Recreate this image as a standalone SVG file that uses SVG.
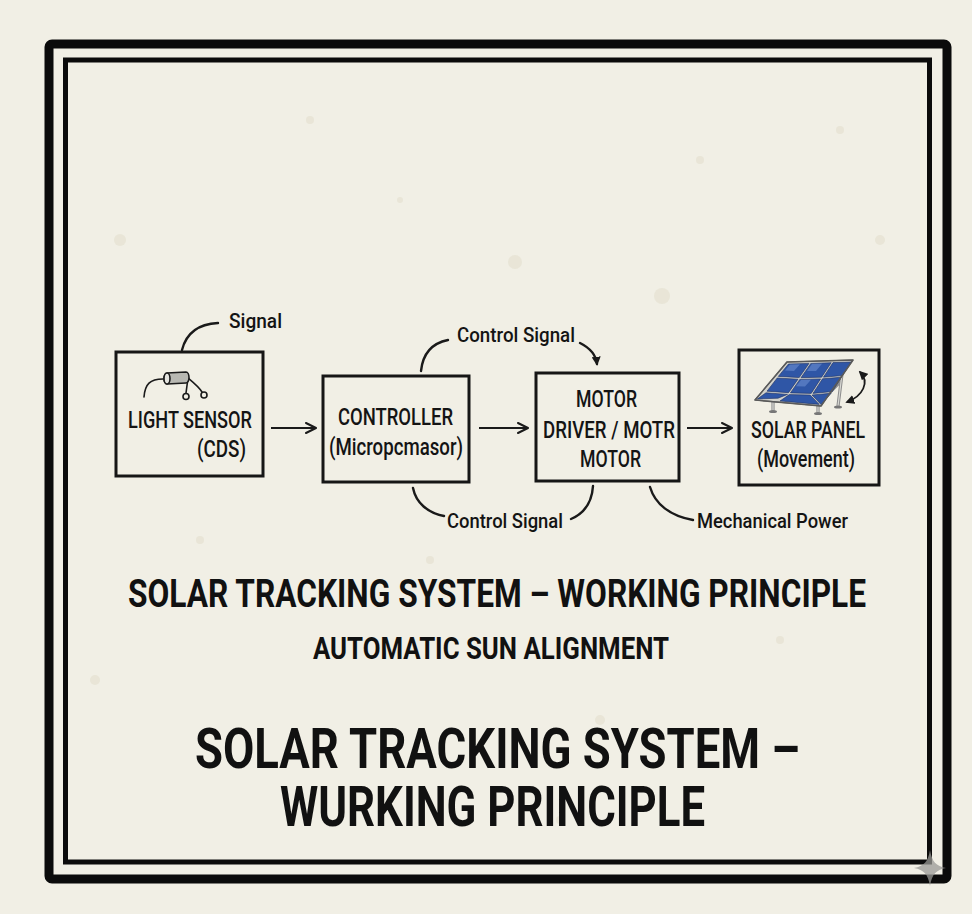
<svg xmlns="http://www.w3.org/2000/svg" width="972" height="914" viewBox="0 0 972 914">
  <defs>
    <style>
      .lbl { font-family: Roboto, "DejaVu Sans", sans-serif; font-weight: 500; fill: #141414; }
      .node { font-size: 23px; }
      .note { font-size: 21px; }
      .head { font-family: Roboto, "DejaVu Sans", sans-serif; font-weight: 700; fill: #111; }
      .box { fill: none; stroke: #161616; stroke-width: 3; }
      .wire { fill: none; stroke: #1a1a1a; stroke-width: 2.4; stroke-linecap: round; }
      .flow { fill: none; stroke: #1a1a1a; stroke-width: 2.2; marker-end: url(#chev); }
      .speck { fill: #d9d3bd; opacity: 0.35; }
    </style>
    <marker id="chev" viewBox="0 0 12 12" refX="11" refY="6" markerWidth="12" markerHeight="12" markerUnits="userSpaceOnUse" orient="auto">
      <path d="M1,1 L11,6 L1,11" fill="none" stroke="#1a1a1a" stroke-width="2" stroke-linecap="round" stroke-linejoin="round"/>
    </marker>
    <marker id="tip" viewBox="0 0 10 10" refX="8" refY="5" markerWidth="9" markerHeight="9" markerUnits="userSpaceOnUse" orient="auto-start-reverse">
      <path d="M0,0 L10,5 L0,10 Z" fill="#1a1a1a"/>
    </marker>
  </defs>

  <!-- paper -->
  <rect x="0" y="0" width="972" height="914" fill="#f1efe5"/>
  <g id="paper-specks">
    <circle class="speck" cx="120" cy="240" r="6"/>
    <circle class="speck" cx="515" cy="262" r="7"/>
    <circle class="speck" cx="662" cy="296" r="8"/>
    <circle class="speck" cx="700" cy="160" r="4"/>
    <circle class="speck" cx="310" cy="120" r="4"/>
    <circle class="speck" cx="880" cy="240" r="5"/>
    <circle class="speck" cx="600" cy="720" r="5"/>
    <circle class="speck" cx="430" cy="560" r="4"/>
    <circle class="speck" cx="95" cy="680" r="5"/>
    <circle class="speck" cx="840" cy="130" r="4"/>
    <circle class="speck" cx="200" cy="540" r="4"/>
    <circle class="speck" cx="780" cy="640" r="4"/>
    <circle class="speck" cx="400" cy="200" r="3"/>
    <circle class="speck" cx="560" cy="820" r="4"/>
  </g>

  <!-- double frame -->
  <g id="frame">
    <rect x="49" y="44" width="898" height="835" rx="3" fill="none" stroke="#0b0b0b" stroke-width="9"/>
    <rect x="65.5" y="60" width="864" height="802" fill="none" stroke="#0b0b0b" stroke-width="5"/>
  </g>

  <!-- connectors -->
  <g id="connectors">
    <path class="flow" d="M271,428 L316,428"/>
    <path class="flow" d="M479,428 L528,428"/>
    <path class="flow" d="M687,428 L732,428"/>
    <path class="wire" d="M182,350 C186,334 198,324 218,323"/>
    <path class="wire" d="M421,371 C423,352 433,343 448,340"/>
    <path class="wire" d="M580,343 C590,348 596,355 597,364" marker-end="url(#tip)"/>
    <path class="wire" d="M413,488 C416,503 428,513 444,516"/>
    <path class="wire" d="M571,519 C585,513 592,502 593,486"/>
    <path class="wire" d="M650,487 C655,504 670,516 693,520"/>
    <text class="lbl note" x="229" y="328" textLength="53" lengthAdjust="spacingAndGlyphs">Signal</text>
    <text class="lbl note" x="457" y="342" textLength="118" lengthAdjust="spacingAndGlyphs">Control Signal</text>
    <text class="lbl note" x="447" y="528" textLength="116" lengthAdjust="spacingAndGlyphs">Control Signal</text>
    <text class="lbl note" x="697" y="528" textLength="151" lengthAdjust="spacingAndGlyphs">Mechanical Power</text>
  </g>

  <!-- light sensor -->
  <g id="light-sensor">
    <rect class="box" x="116" y="352" width="147" height="124"/>
    <g id="cds-cell" fill="none" stroke="#1a1a1a" stroke-width="1.6" stroke-linecap="round">
      <path d="M163,379 C150,379 145,384 144,397"/>
      <path d="M188,378 L186,393"/>
      <path d="M188,378 C194,383 199,387 202,392"/>
      <circle cx="186" cy="396.5" r="3" fill="#f1efe5"/>
      <circle cx="204" cy="395" r="3" fill="#f1efe5"/>
      <path d="M167,373 L186,372 A3,5.5 0 0 1 186,383 L167,384 A3,5.5 0 0 1 167,373 Z" fill="#b8b8b2"/>
      <ellipse cx="167" cy="378.5" rx="3" ry="5.5" fill="#e4e4df"/>
    </g>
    <text class="lbl node" x="128" y="428" textLength="124" lengthAdjust="spacingAndGlyphs">LIGHT SENSOR</text>
    <text class="lbl node" x="197" y="457" textLength="49" lengthAdjust="spacingAndGlyphs">(CDS)</text>
  </g>

  <!-- controller -->
  <g id="controller">
    <rect class="box" x="323" y="376" width="146" height="106"/>
    <text class="lbl node" x="338" y="425" textLength="115" lengthAdjust="spacingAndGlyphs">CONTROLLER</text>
    <text class="lbl node" x="329" y="455" textLength="134" lengthAdjust="spacingAndGlyphs">(Micropcmasor)</text>
  </g>

  <!-- motor driver -->
  <g id="motor-driver">
    <rect class="box" x="536" y="373" width="143" height="108"/>
    <text class="lbl node" x="576" y="407" textLength="61" lengthAdjust="spacingAndGlyphs">MOTOR</text>
    <text class="lbl node" x="543" y="438" textLength="132" lengthAdjust="spacingAndGlyphs">DRIVER / MOTR</text>
    <text class="lbl node" x="580" y="467" textLength="61" lengthAdjust="spacingAndGlyphs">MOTOR</text>
  </g>

  <!-- solar panel -->
  <g id="solar-panel">
    <rect class="box" x="739" y="350" width="140" height="135"/>
    <g id="panel-icon" stroke-linejoin="round">
      <!-- stand -->
      <path d="M773,400 L773,411 M818,404 L818,413 M843,366 L838,406 M824,398 L840,382" stroke="#8d8d8d" stroke-width="3.2" fill="none" stroke-linecap="round"/>
      <path d="M773,400 L773,411 M818,404 L818,413 M843,366 L838,406" stroke="#d9d9d4" stroke-width="1.2" fill="none"/>
      <ellipse cx="773" cy="411.5" rx="4" ry="1.6" fill="#777"/>
      <ellipse cx="818" cy="413.5" rx="4" ry="1.6" fill="#777"/>
      <ellipse cx="838" cy="407" rx="4" ry="1.6" fill="#777"/>
      <!-- panel -->
      <path d="M787,362 L853,360 L821,406 L755,400 Z" fill="#d2d2cc" stroke="#666" stroke-width="1.2"/>
      <g fill="#2f56a6" stroke="#1c2f60" stroke-width="0.6">
        <path d="M788.5,364 L809,363.4 L799.2,377.6 L778.3,376.4 Z"/>
        <path d="M810.8,363.4 L831.2,362.7 L821.6,377.2 L801,377.7 Z"/>
        <path d="M833,362.6 L851,362 L842.4,375.6 L823.4,377.2 Z"/>
        <path d="M777.2,378 L798,379.2 L788.5,392.7 L767,391.2 Z"/>
        <path d="M799.8,379.4 L820.6,378.9 L811.2,393.4 L790.4,392.9 Z"/>
        <path d="M822.5,378.8 L841.4,377.2 L832.3,391.6 L813,393.4 Z"/>
        <path d="M766,392.8 L787.5,394.4 L778,398.2 L757.3,399 Z"/>
        <path d="M789.3,394.6 L810.2,395 L819.2,404.4 L780,401 Z"/>
        <path d="M812,395 L831.2,393.2 L821,404.5 Z"/>
      </g>
      <g fill="#7fa0de" opacity="0.45">
        <path d="M790,364.5 L800,364.2 L794,371 L785,370.6 Z"/>
        <path d="M812,364 L822,363.7 L816,371 L807,371 Z"/>
        <path d="M801,380 L811,379.7 L805,386.4 L796,386.3 Z"/>
      </g>
      <path d="M787,362 L853,360 L821,406 L755,400 Z" fill="none" stroke="#5a5a5a" stroke-width="1.5"/>
      <!-- tilt arrow -->
      <path d="M860,372 C870,382 863,396 847,402" fill="none" stroke="#1a1a1a" stroke-width="1.8" marker-start="url(#tip)" marker-end="url(#tip)"/>
    </g>
    <text class="lbl node" x="751" y="438" textLength="114" lengthAdjust="spacingAndGlyphs">SOLAR PANEL</text>
    <text class="lbl node" x="757" y="467" textLength="98" lengthAdjust="spacingAndGlyphs">(Movement)</text>
  </g>

  <!-- headings -->
  <g id="headings">
    <text class="head" x="128" y="607" font-size="38" textLength="738" lengthAdjust="spacingAndGlyphs">SOLAR TRACKING SYSTEM – WORKING PRINCIPLE</text>
    <text class="head" x="313" y="659" font-size="31" font-weight="600" textLength="356" lengthAdjust="spacingAndGlyphs">AUTOMATIC SUN ALIGNMENT</text>
    <text class="head" x="195" y="768" font-size="56" textLength="605" lengthAdjust="spacingAndGlyphs">SOLAR TRACKING SYSTEM –</text>
    <text class="head" x="280" y="826" font-size="56" textLength="425" lengthAdjust="spacingAndGlyphs">WURKING PRINCIPLE</text>
  </g>

  <!-- corner sparkle -->
  <path id="sparkle" d="M930,850 C932,862 936,866 946,868 C936,870 932,874 930,886 C928,874 924,870 914,868 C924,866 928,862 930,850 Z" fill="#9a9a96" opacity="0.75"/>
</svg>
